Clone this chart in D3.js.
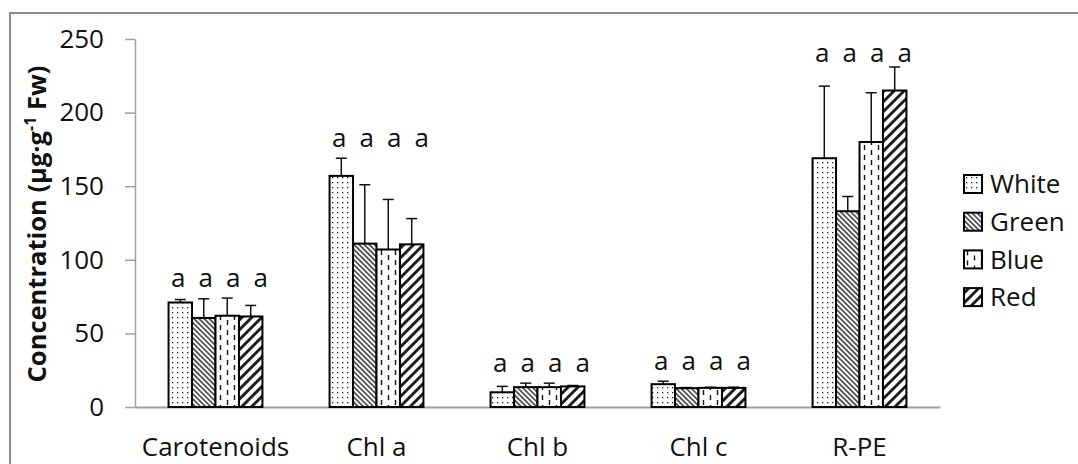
<!DOCTYPE html>
<html>
<head>
<meta charset="utf-8">
<script src="https://cdn.jsdelivr.net/npm/d3@7"></script>
<style>
  body { margin: 0; background: #fff; }
  svg { display: block; font-family: "Open Sans", sans-serif; }
</style>
</head>
<body>
<svg id="chart"></svg>
<script>
// Data
var categories = ["Carotenoids", "Chl a", "Chl b", "Chl c", "R-PE"];
var treatments = ["White", "Green", "Blue", "Red"];

var whiteVals = [71, 157, 10, 15.5, 169];
var greenVals = [60.5, 111, 13.5, 12.8, 133];
var blueVals  = [62, 107, 13.5, 13, 180];
var redVals   = [61.5, 110.5, 14, 13, 215];

var whiteErr = [2, 12, 4, 2, 49];
var greenErr = [13, 40, 2.7, 0.4, 10];
var blueErr  = [12, 34, 2.7, 0.4, 33.5];
var redErr   = [7.5, 17.5, 0.6, 0.4, 16];

var sigLetters = [
  ["a", "a", "a", "a"],
  ["a", "a", "a", "a"],
  ["a", "a", "a", "a"],
  ["a", "a", "a", "a"],
  ["a", "a", "a", "a"]
];

var yTicks = [0, 50, 100, 150, 200, 250];

var seriesVals = [whiteVals, greenVals, blueVals, redVals];
var seriesErr = [whiteErr, greenErr, blueErr, redErr];

//Size of the picture
var svgWidth = 1078;
var svgHeight = 464;

var svg = d3.select("#chart")
    .attr("width", svgWidth)
    .attr("height", svgHeight);

//Patterns for the bars
var defs = svg.append("defs");

// White: fine dots
var pWhite = defs.append("pattern")
    .attr("id", "pat-White")
    .attr("patternUnits", "userSpaceOnUse")
    .attr("width", 5).attr("height", 5);
pWhite.append("rect").attr("width", 5).attr("height", 5).attr("fill", "#fff");
pWhite.append("rect").attr("x", 2).attr("y", 2).attr("width", 1.3).attr("height", 1.3).attr("fill", "#222");

// Green: dense thin "\" lines
var pGreen = defs.append("pattern")
    .attr("id", "pat-Green")
    .attr("patternUnits", "userSpaceOnUse")
    .attr("width", 3.6).attr("height", 10)
    .attr("patternTransform", "rotate(-45)");
pGreen.append("rect").attr("width", 3.6).attr("height", 10).attr("fill", "#fff");
pGreen.append("line").attr("x1", 1.8).attr("x2", 1.8).attr("y1", 0).attr("y2", 10)
    .attr("stroke", "#111").attr("stroke-width", 1.3);

// Blue: vertical dashes
var pBlue = defs.append("pattern")
    .attr("id", "pat-Blue")
    .attr("patternUnits", "userSpaceOnUse")
    .attr("width", 14).attr("height", 10);
pBlue.append("rect").attr("width", 14).attr("height", 10).attr("fill", "#fff");
pBlue.append("line").attr("x1", 3.5).attr("x2", 3.5).attr("y1", 0).attr("y2", 5)
    .attr("stroke", "#111").attr("stroke-width", 1.4);
pBlue.append("line").attr("x1", 10.5).attr("x2", 10.5).attr("y1", 5).attr("y2", 10)
    .attr("stroke", "#111").attr("stroke-width", 1.4);

// Red: wide "/" lines
var pRed = defs.append("pattern")
    .attr("id", "pat-Red")
    .attr("patternUnits", "userSpaceOnUse")
    .attr("width", 7).attr("height", 10)
    .attr("patternTransform", "rotate(45)");
pRed.append("rect").attr("width", 7).attr("height", 10).attr("fill", "#fff");
pRed.append("line").attr("x1", 3.5).attr("x2", 3.5).attr("y1", 0).attr("y2", 10)
    .attr("stroke", "#111").attr("stroke-width", 2.8);

//Chart frame
svg.append("rect")
    .attr("x", 10).attr("y", 13)
    .attr("width", svgWidth + 20).attr("height", svgHeight + 20)
    .attr("fill", "none")
    .attr("stroke", "#8c8c8c")
    .attr("stroke-width", 2);

//Scales
var plotLeft = 135, plotRight = 940, plotTop = 39, plotBottom = 407;

var x0 = d3.scaleBand()
    .domain(categories)
    .range([plotLeft, plotRight])
    .padding(0);

var x1 = d3.scaleBand()
    .domain(treatments)
    .range([0, x0.bandwidth()])
    .paddingInner(0)
    .paddingOuter(1.43);

var y = d3.scaleLinear()
    .domain([0, 250])
    .range([plotBottom, plotTop]);

//Y Axis
var yAxis = svg.append("g")
    .attr("transform", "translate(" + plotLeft + ",0)")
    .call(d3.axisLeft(y).tickValues(yTicks).tickSize(10).tickSizeOuter(0).tickPadding(21));
yAxis.select(".domain").attr("stroke", "#a0a0a0").attr("stroke-width", 1.5);
yAxis.selectAll(".tick line").attr("stroke", "#a0a0a0").attr("stroke-width", 1.5);
yAxis.selectAll(".tick text")
    .attr("font-family", "Open Sans, sans-serif")
    .attr("font-size", 26)
    .attr("fill", "#111");

//X Axis
var xAxis = svg.append("g")
    .attr("transform", "translate(0," + plotBottom + ")")
    .call(d3.axisBottom(x0).tickSize(0).tickSizeOuter(0).tickPadding(0));
xAxis.select(".domain").attr("stroke", "#a0a0a0").attr("stroke-width", 2);
xAxis.selectAll(".tick text")
    .attr("font-family", "Open Sans, sans-serif")
    .attr("font-size", 26)
    .attr("fill", "#111")
    .attr("dy", null)
    .attr("y", 49);

//Flatten data for the bars
var barData = [];
categories.forEach(function (c, ci) {
    treatments.forEach(function (t, ti) {
        barData.push({ cat: c, ci: ci, treat: t, value: seriesVals[ti][ci], err: seriesErr[ti][ci] });
    });
});

//Error bars (upper only), drawn below the bars
var errG = svg.append("g").selectAll("g")
    .data(barData)
    .enter()
    .append("g");

errG.append("line")
    .attr("x1", function (d) { return x0(d.cat) + x1(d.treat) + x1.bandwidth() / 2; })
    .attr("x2", function (d) { return x0(d.cat) + x1(d.treat) + x1.bandwidth() / 2; })
    .attr("y1", function (d) { return y(d.value); })
    .attr("y2", function (d) { return y(d.value + d.err); })
    .attr("stroke", "#111").attr("stroke-width", 1.5);

errG.append("line")
    .attr("x1", function (d) { return x0(d.cat) + x1(d.treat) + x1.bandwidth() / 2 - 5.5; })
    .attr("x2", function (d) { return x0(d.cat) + x1(d.treat) + x1.bandwidth() / 2 + 5.5; })
    .attr("y1", function (d) { return y(d.value + d.err); })
    .attr("y2", function (d) { return y(d.value + d.err); })
    .attr("stroke", "#111").attr("stroke-width", 1.5);

//Bars
svg.append("g").selectAll("rect")
    .data(barData)
    .enter()
    .append("rect")
    .attr("x", function (d) { return x0(d.cat) + x1(d.treat); })
    .attr("y", function (d) { return y(d.value); })
    .attr("width", x1.bandwidth())
    .attr("height", function (d) { return y(0) - y(d.value); })
    .attr("fill", function (d) { return "url(#pat-" + d.treat + ")"; })
    .attr("stroke", "#000")
    .attr("stroke-width", 2);

//Significance letters over each group
categories.forEach(function (c, ci) {
    var top = d3.max(treatments, function (t, ti) { return seriesVals[ti][ci] + seriesErr[ti][ci]; });
    var baseY = Math.max(y(top) - 11, 62);
    svg.append("g").selectAll("text")
        .data(sigLetters[ci])
        .enter()
        .append("text")
        .attr("x", function (d, i) { return x0(c) + x0.bandwidth() / 2 + (i - 1.5) * 27.5 + 4; })
        .attr("y", baseY)
        .attr("text-anchor", "middle")
        .attr("font-size", 26)
        .attr("fill", "#111")
        .text(function (d) { return d; });
});

//Y axis title
var yTitle = svg.append("text")
    .attr("transform", "translate(46," + 224 + ") rotate(-90)")
    .attr("text-anchor", "middle")
    .attr("font-size", 25.5)
    .attr("font-weight", "bold")
    .attr("fill", "#111");
yTitle.append("tspan").text("Concentration (µg·g");
yTitle.append("tspan").attr("dy", -10).attr("font-size", 16).text("-1");
yTitle.append("tspan").attr("dy", 10).text(" Fw)");

//Legend
var legend = svg.append("g").selectAll("g")
    .data(treatments)
    .enter()
    .append("g")
    .attr("transform", function (d, i) { return "translate(964," + (175 + i * 37.7) + ")"; });

legend.append("rect")
    .attr("width", 18).attr("height", 18)
    .attr("fill", function (d) { return "url(#pat-" + d + ")"; })
    .attr("stroke", "#000")
    .attr("stroke-width", 2);

legend.append("text")
    .attr("x", 26)
    .attr("y", 9)
    .attr("dy", "0.36em")
    .attr("font-size", 26)
    .attr("fill", "#111")
    .text(function (d) { return d; });
</script>
</body>
</html>
